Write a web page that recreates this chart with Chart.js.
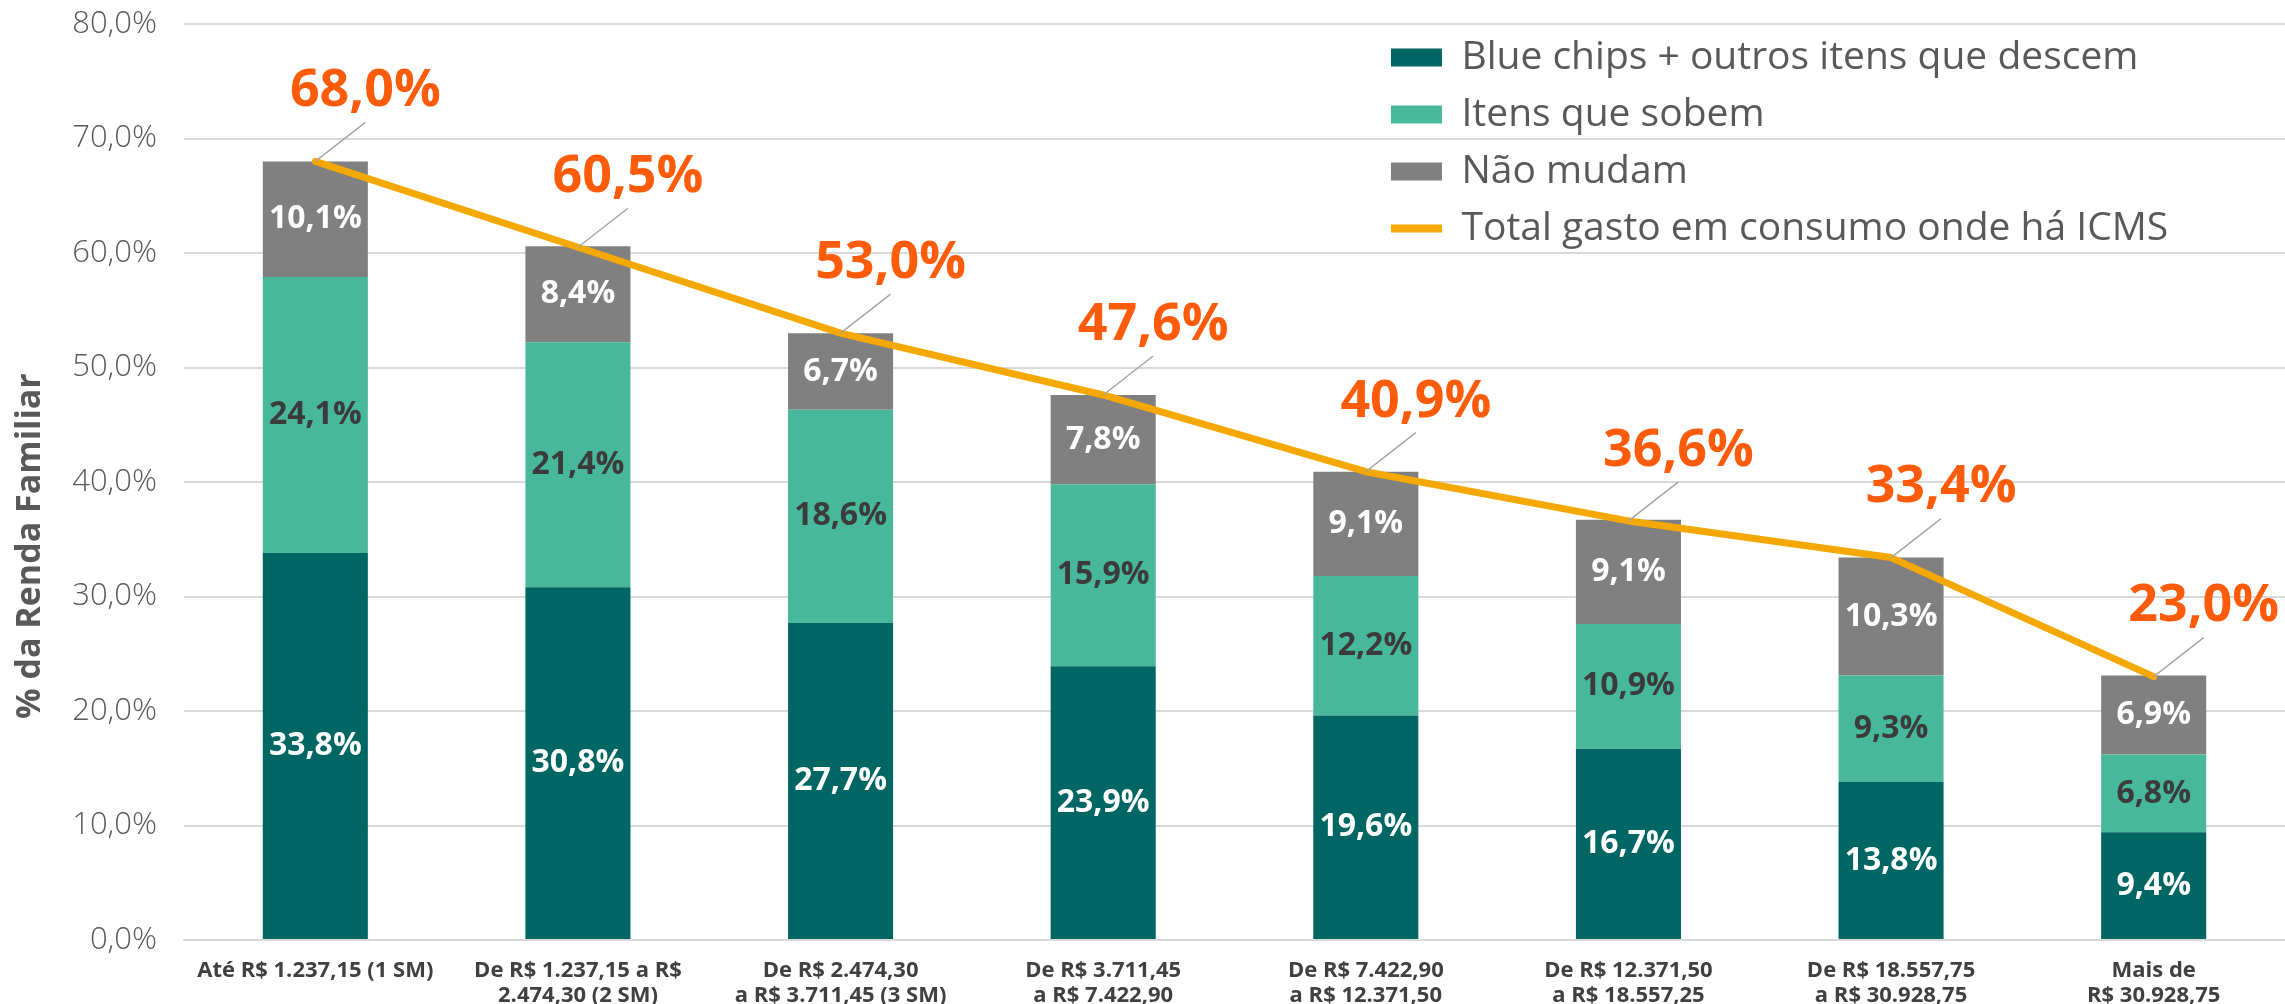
<!DOCTYPE html>
<html lang="pt-BR">
<head>
    <meta charset="utf-8">
    <title>Gasto em consumo onde há ICMS por faixa de renda</title>
    <script src="https://cdn.jsdelivr.net/npm/chart.js"></script>
    <style>
        body {
            margin: 0;
            background-color: white;
        }

        canvas {
            display: block;
        }
    </style>
</head>
<body>

    <canvas id="icmsChart" width="2285" height="1004"></canvas>

    <script>
        // Faixas de renda familiar (eixo X)
        const faixas = [
            'Até R$ 1.237,15 (1 SM)',
            ['De R$ 1.237,15 a R$', '2.474,30 (2 SM)'],
            ['De R$ 2.474,30', 'a R$ 3.711,45 (3 SM)'],
            ['De R$ 3.711,45', 'a R$ 7.422,90'],
            ['De R$ 7.422,90', 'a R$ 12.371,50'],
            ['De R$ 12.371,50', 'a R$ 18.557,25'],
            ['De R$ 18.557,75', 'a R$ 30.928,75'],
            ['Mais de', 'R$ 30.928,75']
        ];

        // % da renda familiar
        const blueChips = [33.8, 30.8, 27.7, 23.9, 19.6, 16.7, 13.8, 9.4];
        const itensSobem = [24.1, 21.4, 18.6, 15.9, 12.2, 10.9, 9.3, 6.8];
        const naoMudam = [10.1, 8.4, 6.7, 7.8, 9.1, 9.1, 10.3, 6.9];
        const totalIcms = [68.0, 60.5, 53.0, 47.6, 40.9, 36.6, 33.4, 23.0];

        const yMax = 80;
        const yStep = 10;

        const FONT = '"Open Sans", "DejaVu Sans", sans-serif';

        function pct(v) {
            return v.toFixed(1).replace('.', ',') + '%';
        }

        // rótulos dentro das barras e acima da linha
        const valueLabels = {
            id: 'valueLabels',
            afterDatasetsDraw(chart) {
                const ctx = chart.ctx;
                ctx.save();
                ctx.textAlign = 'center';
                ctx.textBaseline = 'middle';
                chart.data.datasets.forEach((ds, i) => {
                    const meta = chart.getDatasetMeta(i);
                    meta.data.forEach((el, j) => {
                        const text = pct(ds.data[j]);
                        if (ds.type === 'line') {
                            const lx = el.x + 50;
                            const ly = el.y - 70;
                            ctx.strokeStyle = '#A6A6A6';
                            ctx.lineWidth = 1.5;
                            ctx.beginPath();
                            ctx.moveTo(el.x, el.y);
                            ctx.lineTo(lx, ly + 31);
                            ctx.stroke();
                            ctx.font = 'bold 52px ' + FONT;
                            ctx.fillStyle = '#FE5C0A';
                            ctx.fillText(text, lx, ly);
                        } else {
                            ctx.font = 'bold 32px ' + FONT;
                            ctx.fillStyle = ds.labelColor;
                            ctx.fillText(text, el.x, (el.y + el.base) / 2);
                        }
                    });
                });
                ctx.restore();
            }
        };

        // título do eixo Y, um pouco abaixo do centro como no original
        const yTitle = {
            id: 'yTitle',
            afterDraw(chart) {
                const a = chart.chartArea;
                const ctx = chart.ctx;
                ctx.save();
                ctx.translate(30, a.top + (a.bottom - a.top) * 0.57);
                ctx.rotate(-Math.PI / 2);
                ctx.font = 'bold 34px ' + FONT;
                ctx.fillStyle = '#595959';
                ctx.textAlign = 'center';
                ctx.textBaseline = 'middle';
                ctx.fillText('% da Renda Familiar', 0, 0);
                ctx.restore();
            }
        };

        // legenda dentro da área do gráfico, canto superior direito
        const legendPlace = {
            id: 'legendPlace',
            afterLayout(chart) {
                const lg = chart.legend;
                const a = chart.chartArea;
                lg.left = a.left + (a.right - a.left) * 0.5659;
                lg.top = a.top - 4;
            }
        };

        new Chart(document.getElementById('icmsChart').getContext('2d'), {
            data: {
                labels: faixas,
                datasets: [
                    {
                        type: 'bar',
                        label: 'Blue chips + outros itens que descem',
                        data: blueChips,
                        backgroundColor: '#006663',
                        labelColor: '#FFFFFF',
                        pointStyle: 'rect',
                        barPercentage: 0.4,
                        categoryPercentage: 1.0,
                        order: 1
                    },
                    {
                        type: 'bar',
                        label: 'Itens que sobem',
                        data: itensSobem,
                        backgroundColor: '#48B89A',
                        labelColor: '#3B3B3B',
                        pointStyle: 'rect',
                        barPercentage: 0.4,
                        categoryPercentage: 1.0,
                        order: 1
                    },
                    {
                        type: 'bar',
                        label: 'Não mudam',
                        data: naoMudam,
                        backgroundColor: '#808080',
                        labelColor: '#FFFFFF',
                        pointStyle: 'rect',
                        barPercentage: 0.4,
                        categoryPercentage: 1.0,
                        order: 1
                    },
                    {
                        type: 'line',
                        label: 'Total gasto em consumo onde há ICMS',
                        data: totalIcms,
                        borderColor: '#F5A800',
                        backgroundColor: '#F5A800',
                        borderWidth: 7,
                        borderCapStyle: 'round',
                        borderJoinStyle: 'round',
                        pointRadius: 0,
                        pointBorderWidth: 8,
                        pointStyle: 'line',
                        tension: 0,
                        order: 0
                    }
                ]
            },
            options: {
                responsive: false,
                animation: false,
                devicePixelRatio: 1,
                layout: {
                    padding: { top: 24, left: 0, right: 0, bottom: 0 }
                },
                plugins: {
                    tooltip: { enabled: false },
                    legend: {
                        position: 'chartArea',
                        align: 'start',
                        labels: {
                            usePointStyle: true,
                            pointStyleWidth: 51,
                            boxHeight: 18,
                            padding: 18,
                            color: '#595959',
                            font: { family: FONT, size: 39 },
                            sort: (a, b) => a.datasetIndex - b.datasetIndex
                        }
                    }
                },
                scales: {
                    x: {
                        stacked: true,
                        grid: { display: false },
                        border: { color: '#D9D9D9', width: 2 },
                        ticks: {
                            autoSkip: false,
                            maxRotation: 0,
                            padding: 10,
                            color: '#404040',
                            font: { family: FONT, size: 22, weight: 'bold', lineHeight: 1.15 }
                        },
                        afterFit(scale) {
                            scale.height = 64;
                        }
                    },
                    y: {
                        stacked: true,
                        min: 0,
                        max: yMax,
                        grid: {
                            color: '#D9D9D9',
                            lineWidth: 2,
                            drawTicks: false
                        },
                        border: { display: false },
                        ticks: {
                            stepSize: yStep,
                            padding: 27,
                            color: '#595959',
                            font: { family: FONT, size: 31, weight: '300' },
                            callback: (v) => pct(v)
                        },
                        afterFit(scale) {
                            scale.width = 184;
                            scale.paddingTop = 0;
                            scale.paddingBottom = 0;
                        }
                    }
                }
            },
            plugins: [valueLabels, yTitle, legendPlace]
        });
    </script>

</body>
</html>
